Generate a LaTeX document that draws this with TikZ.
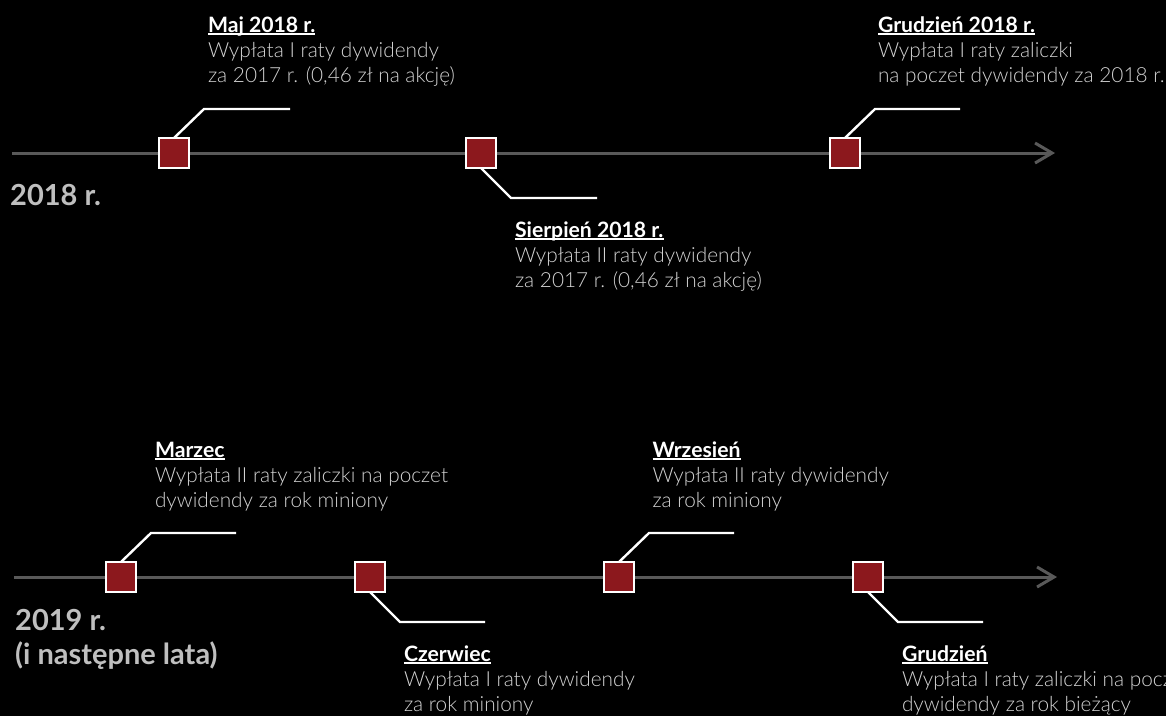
\documentclass[tikz,border=0pt]{standalone}
\usepackage{fontspec}
\setmainfont{Lato}
\newfontfamily\lightfont{Lato Light}
\usetikzlibrary{arrows.meta}
\definecolor{bgc}{RGB}{0,0,0}
\definecolor{sqred}{RGB}{140,24,29}
\definecolor{axisgray}{RGB}{89,89,89}
\definecolor{bodygray}{RGB}{210,210,210}
\definecolor{yeargray}{RGB}{191,191,191}
\newcommand\myul[1]{\setbox0\hbox{#1}\rlap{\rule[-3pt]{\wd0}{1.6pt}}\box0}
\newcommand\evlabel[3]{\vtop{\baselineskip=25pt\hbox{\fontsize{21.2pt}{25pt}\selectfont\bfseries\color{white}\myul{#1}}\hbox{\lightfont\fontsize{20.8pt}{25pt}\selectfont\color{bodygray}#2}\hbox{\lightfont\fontsize{20.8pt}{25pt}\selectfont\color{bodygray}#3}}}
\newcommand\yrlabel[2]{\vtop{\baselineskip=34pt\hbox{#1}\hbox{#2}}}
\tikzset{
  sq/.style={draw=white, line width=2.4pt, fill=sqred, minimum size=30pt, inner sep=0pt, outer sep=0pt},
  axis/.style={draw=axisgray, line width=3pt, -{Straight Barb[length=17pt,width=20pt]}},
  leader/.style={draw=white, line width=2.4pt},
  evtext/.style={anchor=base west, inner sep=0pt, outer sep=0pt},
  yeartext/.style={anchor=base west, inner sep=0pt, text=yeargray, font=\fontsize{29pt}{34pt}\selectfont\bfseries},
}
\begin{document}
\begin{tikzpicture}[x=1pt,y=-1pt]
\fill[bgc] (0,0) rectangle (1166,716);
\useasboundingbox (0,0) rectangle (1166,716);
% timeline 1
\coordinate (a1s) at (12,153);
\coordinate (a1e) at (1055,153);
\draw[axis] (a1s) -- (a1e);
\node[sq] (m1) at (174,153) {};
\node[sq] (m2) at (481,153) {};
\node[sq] (m3) at (845,153) {};
\draw[leader] (m1.north) -- ++(30,-29) -- ++(86,0);
\draw[leader] (m2.south) -- ++(30,30) -- ++(86,0);
\draw[leader] (m3.north) -- ++(30,-29) -- ++(85,0);
\node[evtext] (l1) at (208,32) {\evlabel{Maj 2018 r.}{Wypłata I raty dywidendy}{za 2017 r. (0,46 zł na akcję)}};
\node[evtext] (l2) at (515,237) {\evlabel{Sierpień 2018 r.}{Wypłata II raty dywidendy}{za 2017 r. (0,46 zł na akcję)}};
\node[evtext] (l3) at (878,32) {\evlabel{Grudzień 2018 r.}{Wypłata I raty zaliczki}{na poczet dywidendy za 2018 r.}};
\node[yeartext] (y1) at (10,205) {2018 r.};
% timeline 2
\coordinate (a2s) at (14,577);
\coordinate (a2e) at (1057,577);
\draw[axis] (a2s) -- (a2e);
\node[sq] (n1) at (121,577) {};
\node[sq] (n2) at (370,577) {};
\node[sq] (n3) at (619,577) {};
\node[sq] (n4) at (868,577) {};
\draw[leader] (n1.north) -- ++(30,-29) -- ++(85,0);
\draw[leader] (n2.south) -- ++(30,30) -- ++(85,0);
\draw[leader] (n3.north) -- ++(30,-29) -- ++(85,0);
\draw[leader] (n4.south) -- ++(30,30) -- ++(85,0);
\node[evtext] (k1) at (155,457) {\evlabel{Marzec}{Wypłata II raty zaliczki na poczet}{dywidendy za rok miniony}};
\node[evtext] (k2) at (404,661) {\evlabel{Czerwiec}{Wypłata I raty dywidendy}{za rok miniony}};
\node[evtext] (k3) at (652.5,457) {\evlabel{Wrzesień}{Wypłata II raty dywidendy}{za rok miniony}};
\node[evtext] (k4) at (902,661) {\evlabel{Grudzień}{Wypłata I raty zaliczki na poczet}{dywidendy za rok bieżący}};
\node[yeartext] (y2) at (15,630) {\yrlabel{2019 r.}{(i następne lata)}};
\end{tikzpicture}
\end{document}
